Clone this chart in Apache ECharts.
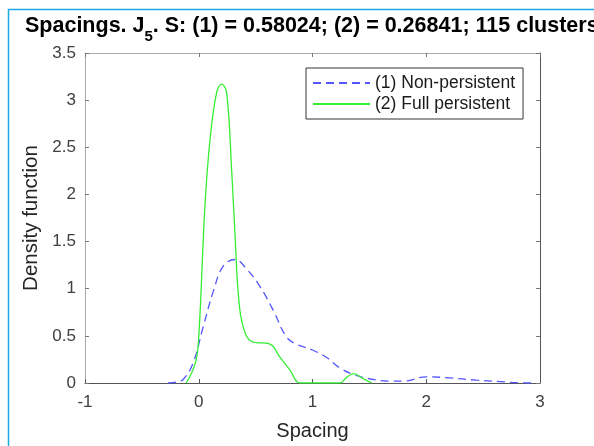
<!DOCTYPE html>
<html><head><meta charset="utf-8">
<script src="https://cdn.jsdelivr.net/npm/echarts@6/dist/echarts.min.js"></script>
<style>html,body{margin:0;padding:0;background:#fff}#c{width:594px;height:446px}</style>
</head><body><div id="c"></div>
<script>
const titleMain = 'Spacings. J';
const titleSub = '5';
const titleRest = '. S: (1) = 0.58024; (2) = 0.26841; 115 clusters';
const xLabel = 'Spacing';
const yLabel = 'Density function';
const seriesNames = ['(1) Non-persistent', '(2) Full persistent'];
const xTicks = [-1, 0, 1, 2, 3];
const yTicks = [0, 0.5, 1, 1.5, 2, 2.5, 3, 3.5];

const nonPersX = [-0.27,-0.2,-0.135,-0.05,0.04,0.13,0.215,0.32,0.42,0.54,0.655,0.77,0.86,1.0,1.125,1.24,1.36,1.5,1.68,1.8,2.0,2.2,2.44,2.65,2.8,2.94];
const nonPersY = [0,0.01,0.04,0.21,0.6,0.98,1.24,1.31,1.21,1.02,0.77,0.49,0.41,0.35,0.27,0.16,0.09,0.045,0.02,0.02,0.065,0.055,0.03,0.015,0.003,0];
const fullPersX = [-0.11,-0.03,0.0,0.055,0.1,0.157,0.2,0.245,0.29,0.32,0.35,0.39,0.465,0.63,0.71,0.8,0.89,1.0,1.24,1.3,1.36,1.44,1.52];
const fullPersY = [0,0.21,0.49,1.89,2.59,3.08,3.17,3.08,2.24,1.54,0.91,0.6,0.44,0.41,0.28,0.14,0,0,0,0.06,0.1,0.05,0];

const pair = (xs, ys) => xs.map((x, i) => [x, ys[i]]);
const font = '"Liberation Sans", Arial, sans-serif';
const chart = echarts.init(document.getElementById('c'), null, {renderer: 'canvas'});
const tickColor = '#404040';
chart.setOption({
  animation: false,
  backgroundColor: '#fff',
  title: {
    left: 25, top: 15, padding: 0,
    text: '{a|' + titleMain + '}{s|' + titleSub + '}{a|' + titleRest + '}',
    textStyle: {
      rich: {
        a: {fontFamily: font, fontWeight: 'bold', fontSize: 21.5, color: '#000', lineHeight: 24, verticalAlign: 'top'},
        s: {fontFamily: font, fontWeight: 'bold', fontSize: 15, color: '#000', lineHeight: 14, padding: [14, 0, 0, 0], verticalAlign: 'top'}
      }
    }
  },
  legend: {
    left: 306, top: 68, orient: 'vertical',
    backgroundColor: '#fff', borderColor: '#333', borderWidth: 1,
    padding: [6, 8, 6, 6], itemGap: 3, itemWidth: 57, itemHeight: 16,
    itemStyle: {opacity: 0},
    textStyle: {fontFamily: font, fontSize: 17.5, color: '#1a1a1a'},
    data: seriesNames
  },
  grid: {left: 85, right: 54, top: 53, bottom: 59},
  xAxis: [{
    type: 'value', min: -1, max: 3, interval: 1,
    name: xLabel, nameLocation: 'middle', nameGap: 38,
    nameTextStyle: {fontFamily: font, fontSize: 20, color: '#262626'},
    axisLine: {show: true, onZero: false, lineStyle: {color: '#555', width: 1}},
    axisTick: {show: true, inside: true, length: 4, lineStyle: {color: '#555'}},
    axisLabel: {fontFamily: font, fontSize: 17, color: tickColor, margin: 11,
      formatter: v => xTicks.includes(v) ? String(v) : ''},
    splitLine: {show: false}
  }, {
    type: 'value', min: -1, max: 3, interval: 1, position: 'top',
    axisLine: {show: true, onZero: false, lineStyle: {color: '#aaa', width: 1}},
    axisTick: {show: true, inside: true, length: 4, lineStyle: {color: '#777'}},
    axisLabel: {show: false}, splitLine: {show: false}
  }],
  yAxis: [{
    type: 'value', min: 0, max: 3.5, interval: 0.5,
    name: yLabel, nameLocation: 'middle', nameGap: 43,
    nameTextStyle: {fontFamily: font, fontSize: 20.5, color: '#262626'},
    axisLine: {show: true, onZero: false, lineStyle: {color: '#aaa', width: 1}},
    axisTick: {show: true, inside: true, length: 4, lineStyle: {color: '#777'}},
    axisLabel: {fontFamily: font, fontSize: 17, color: tickColor, margin: 9,
      formatter: v => yTicks.includes(v) ? String(v) : ''},
    splitLine: {show: false}
  }, {
    type: 'value', min: 0, max: 3.5, interval: 0.5, position: 'right',
    axisLine: {show: true, onZero: false, lineStyle: {color: '#555', width: 1}},
    axisTick: {show: true, inside: true, length: 4, lineStyle: {color: '#777'}},
    axisLabel: {show: false}, splitLine: {show: false}
  }],
  graphic: [{
    type: 'rect', silent: true, z: 100,
    shape: {x: 8.5, y: 9.5, width: 700, height: 500},
    style: {fill: 'none', stroke: '#1ea8e6', lineWidth: 1.5}
  }],
  series: [{
    name: seriesNames[0], type: 'line', data: pair(nonPersX, nonPersY),
    smooth: 0.4, showSymbol: false, symbol: 'none',
    lineStyle: {color: '#5555ff', width: 1.3, type: [8, 5]},
    itemStyle: {color: '#5555ff'}
  }, {
    name: seriesNames[1], type: 'line', data: pair(fullPersX, fullPersY),
    smooth: 0.4, showSymbol: false, symbol: 'none',
    lineStyle: {color: '#33ee33', width: 1.3},
    itemStyle: {color: '#33ee33'}
  }]
});
</script></body></html>
